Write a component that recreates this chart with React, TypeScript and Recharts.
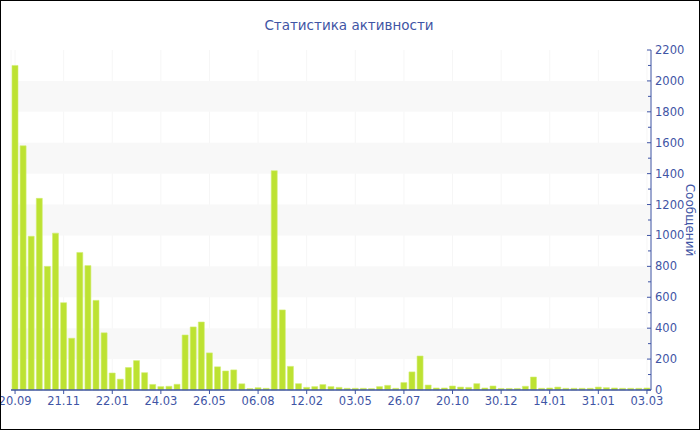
import { Bar, BarChart, CartesianGrid, ReferenceArea, XAxis, YAxis } from "recharts";

const messages = [
  2100, 1580, 995, 1240, 800, 1015, 565, 335, 890, 805, 580, 370, 110, 70, 145, 190, 112, 36, 22, 24,
  37, 356, 408, 440, 240, 150, 123, 130, 40, 9, 15, 11, 1419, 518, 153, 41, 17, 22, 35, 22,
  17, 11, 11, 11, 9, 22, 30, 11, 48, 117, 220, 32, 13, 13, 26, 19, 17, 41, 13, 26,
  10, 10, 10, 24, 84, 11, 13, 19, 11, 11, 11, 11, 19, 15, 13, 11, 11, 11, 13,
];

const dateLabels = [
  "20.09", "21.11", "22.01", "24.03", "26.05", "06.08", "12.02",
  "03.05", "26.07", "20.10", "30.12", "14.01", "31.01", "03.03",
];
const labelIdx = [0, 6, 12, 18, 24, 30, 36, 42, 48, 54, 60, 66, 72, 78];

const yTicks = [
  0, 100, 200, 300, 400, 500, 600, 700, 800, 900, 1000, 1100, 1200, 1300, 1400, 1500, 1600, 1700, 1800,
  1900, 2000, 2100, 2200,
];
const bands = [
  [200, 400],
  [600, 800],
  [1000, 1200],
  [1400, 1600],
  [1800, 2000],
];

const BLUE = "#3f55a5";
const FONT = "'DejaVu Sans', Verdana, sans-serif";

const data = messages.map((v, i) => ({ idx: i, v }));

function YTick(props: any) {
  const { x, y, payload } = props;
  const major = payload.value % 200 === 0;
  return (
    <g>
      <line x1={x - (major ? 4 : 3)} x2={x} y1={y} y2={y} stroke={BLUE} strokeWidth={1} />
      {major && (
        <text x={x + 4} y={y} dy={4} fill={BLUE} fontSize={11.5} fontFamily={FONT}>
          {payload.value}
        </text>
      )}
    </g>
  );
}

export default function App() {
  return (
    <div style={{ position: "absolute", left: 0, top: 0, width: 700, height: 430, background: "#fff" }}>
      <div
        style={{
          position: "absolute",
          left: 0,
          top: 17,
          width: 698,
          textAlign: "center",
          color: BLUE,
          fontFamily: FONT,
          fontSize: 13.5,
        }}
      >
        Статистика активности
      </div>
      <BarChart
        width={700}
        height={430}
        data={data}
        margin={{ top: 50, right: 0, left: 11, bottom: 10 }}
        barCategoryGap={1}
        style={{ position: "absolute", left: 0, top: 0 }}
      >
        {bands.map(([a, b]) => (
          <ReferenceArea key={a} y1={a} y2={b} fill="#f8f8f8" fillOpacity={1} stroke="none" ifOverflow="hidden" />
        ))}
        <CartesianGrid horizontal={false} stroke="#f6f6f6" />
        <XAxis
          dataKey="idx"
          ticks={labelIdx}
          interval={0}
          tickFormatter={(v: number) => dateLabels[labelIdx.indexOf(v)] ?? ""}
          height={30}
          tick={{ fill: BLUE, fontSize: 11.5, fontFamily: FONT }}
          tickSize={4}
          tickMargin={3}
          stroke={BLUE}
          axisLine={{ stroke: BLUE, strokeWidth: 1.5 }}
          tickLine={{ stroke: BLUE }}
        />
        <YAxis
          orientation="right"
          domain={[0, 2200]}
          ticks={yTicks}
          interval={0}
          width={49}
          tickSize={0}
          tickMargin={0}
          tickLine={false}
          axisLine={{ stroke: BLUE, strokeWidth: 1 }}
          tick={<YTick />}
          label={{
            value: "Сообщений",
            angle: 90,
            position: "center",
            dx: 15,
            fill: BLUE,
            fontSize: 12,
            fontFamily: FONT,
          }}
        />
        <Bar dataKey="v" fill="#bde232" stroke="#d2ee74" strokeWidth={0.6} isAnimationActive={false} />
      </BarChart>
      <div
        style={{
          position: "absolute",
          left: 0,
          top: 0,
          width: 700,
          height: 430,
          border: "1px solid #000",
          boxSizing: "border-box",
          pointerEvents: "none",
        }}
      />
    </div>
  );
}
